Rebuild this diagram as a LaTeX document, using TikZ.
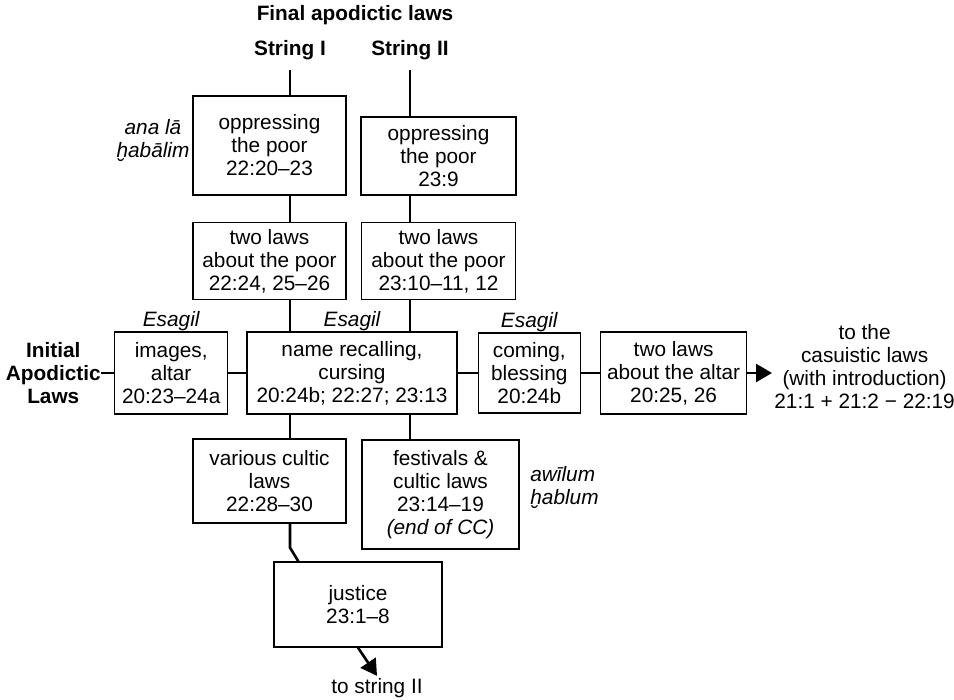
\documentclass[tikz,border=0pt]{standalone}
\usepackage{fontspec}
\setmainfont{Liberation Sans}
\usepackage{tikz}
\usetikzlibrary{positioning}
\usetikzlibrary{arrows.meta}
\tikzstyle{law}=[draw,line width=0.65pt,align=center,inner sep=1pt,minimum height=41pt]
\tikzstyle{note}=[align=center,inner sep=0pt,font=\itshape]
\tikzstyle{head}=[align=center,inner sep=0pt,font=\bfseries]
\tikzstyle{link}=[line width=1.3pt]
\tikzstyle{tip}=[-{Triangle[length=8pt,width=9pt]}]

\begin{document}
\fontsize{10.4pt}{11.5pt}\selectfont
\begin{tikzpicture}[x=1pt,y=1pt]
				
				\useasboundingbox (0,0) rectangle (477,-350);
				
				\begin{scope}
				
				\def\x{13pt}
				\def\y{9pt}
				\def\z{10pt}
				
				\node [head] (final) at (177.5,-7.5) {Final apodictic laws};
				\node [head] (strI) at (145,-25) {String I};
				\node [head] (strII) at (205,-25) {String II};
				\coordinate (topI) at (145,-35);
				\coordinate (topII) at (205,-35);
				
				\node [law, minimum width=76.5pt, minimum height=49.5pt] (opp1) at (134.75,-72.75) {oppressing\\the poor\\22:20--23};
				\node [law, minimum width=77.5pt, minimum height=39pt] (opp2) at (219.25,-78) {oppressing\\the poor\\23:9};
				\node [note] (anala) at (76.5,-70.5) {ana lā\\ḫabālim};
				
				\node [law, minimum width=76.5pt, minimum height=38.5pt, below = \x of opp1] (two1) {two laws\\about the poor\\22:24, 25--26};
				\node [law, minimum width=77pt, minimum height=38.5pt, below = \x of opp2] (two2) {two laws\\about the poor\\23:10--11, 12};
				
				
				\node [law, minimum width=105pt] (name) at (176,-186.5) {name recalling,\\cursing\\20:24b; 22:27; 23:13};
				\node [law, minimum width=56.5pt, left = \y of name] (images) {images,\\altar\\20:23--24a};
				\node [law, minimum width=51pt, minimum height=40pt, right = \z of name] (coming) {coming,\\blessing\\20:24b};
				\node [law, minimum width=73pt, right = 9.5pt of coming] (altar) {two laws\\about the altar\\20:25, 26};
				\node [head, left = 6.5pt of images] (initial) {Initial\\Apodictic\\Laws};
				\node [align=center, inner sep=1pt, anchor=west] (casuistic) at (386,-183.5) {to the\\casuistic laws\\(with introduction)\\21:1 + 21:2 − 22:19};
				
				\node [note, above = 0pt of images] (esa1) {Esagil};
				\node [note, above = 0pt of name] (esa2) {Esagil};
				\node [note, above = 0pt of coming] (esa3) {Esagil};
				
				
				\node [law, minimum width=76.5pt, minimum height=42pt] (cultic) at (134.75,-240.5) {various cultic\\laws\\22:28--30};
				\node [law, minimum width=78.5pt, minimum height=54.5pt] (fest) at (220.25,-247.25) {festivals \&\\cultic laws\\23:14--19\\\textit{(end of CC)}};
				\node [note, align=left, anchor=west] (awilum) at (265,-244) {awīlum\\ḫablum};
				
				\node [law, minimum width=84pt, minimum height=42.5pt] (justice) at (179,-302.25) {justice\\23:1--8};
				\node [inner sep=1pt] (tostring) at (188.5,-344) {to string II};
				
				
				\draw[link] (topI) -- (topI |- opp1.north);
				\draw[link] (opp1.south -| topI) -- (two1.north -| topI);
				\draw[link] (two1.south -| topI) -- (name.north -| topI);
				\draw[link] (name.south -| topI) -- (cultic.north -| topI);
				\draw[link] (cultic.south -| topI) -- ++(0,-12) -- ([xshift=12.5pt]justice.north west);
				
				\draw[link] (topII) -- (topII |- opp2.north);
				\draw[link] (opp2.south -| topII) -- (two2.north -| topII);
				\draw[link] (two2.south -| topII) -- (name.north -| topII);
				\draw[link] (name.south -| topII) -- (fest.north -| topII);
				
				\draw[link] (initial) -- (images);
				\draw[link] (images) -- (name);
				\draw[link] (name) -- (coming);
				\draw[link] (coming) -- (altar);
				\draw[link,tip] (altar.east) -- (altar.east -| casuistic.west);
				
				\draw[link,tip] (justice.south) -- (tostring.north);
				\end{scope}
				\end{tikzpicture}
\end{document}
